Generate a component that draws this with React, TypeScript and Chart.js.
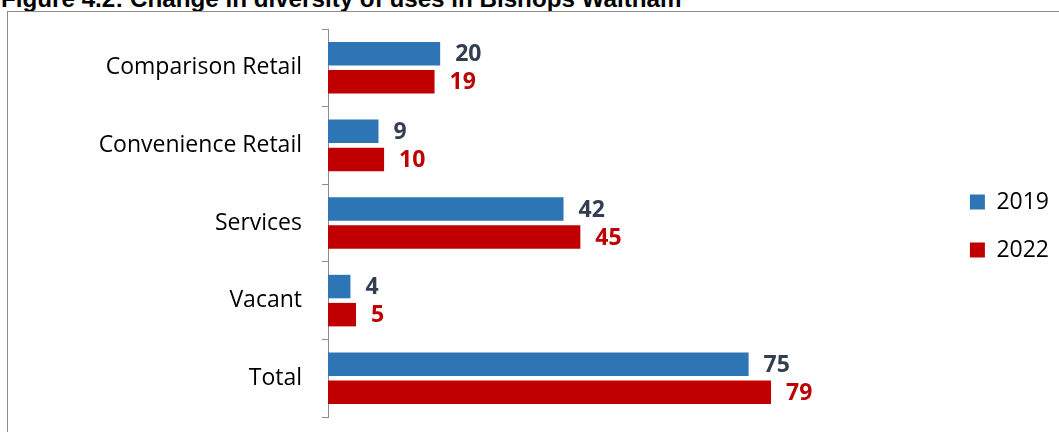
import React, { useEffect, useRef } from 'react';
import { Chart, registerables } from 'chart.js';

Chart.register(...registerables);

const titleText = 'Figure 4.2: Change in diversity of uses in Bishops Waltham';
const categories = ['Comparison Retail', 'Convenience Retail', 'Services', 'Vacant', 'Total'];
const seriesNames = ['2019', '2022'];
const values2019 = [20, 9, 42, 4, 75];
const values2022 = [19, 10, 45, 5, 79];

const W = 1059;
const H = 432;

const valueLabels = {
  id: 'valueLabels',
  afterDatasetsDraw(chart: any) {
    const ctx = chart.ctx;
    ctx.save();
    ctx.font = 'bold 23px "Open Sans"';
    ctx.textAlign = 'left';
    ctx.textBaseline = 'middle';
    chart.data.datasets.forEach((ds: any, i: number) => {
      const meta = chart.getDatasetMeta(i);
      ctx.fillStyle = ds.labelColor;
      meta.data.forEach((el: any, j: number) => {
        ctx.fillText(String(ds.data[j]), el.x + 15, el.y + 1);
      });
    });
    ctx.restore();
  },
};

export default function App() {
  const ref = useRef<HTMLCanvasElement | null>(null);

  useEffect(() => {
    if (!ref.current) return;
    const chart = new Chart(ref.current, {
      type: 'bar',
      data: {
        labels: categories,
        datasets: [
          {
            label: seriesNames[0],
            data: values2019,
            backgroundColor: '#2E75B6',
            labelColor: '#333F50',
            categoryPercentage: 0.724,
            barPercentage: 0.836,
          } as any,
          {
            label: seriesNames[1],
            data: values2022,
            backgroundColor: '#C00000',
            labelColor: '#C00000',
            categoryPercentage: 0.724,
            barPercentage: 0.836,
          } as any,
        ],
      },
      options: {
        indexAxis: 'y',
        responsive: false,
        animation: false,
        devicePixelRatio: 1,
        layout: { padding: { top: 29, bottom: 15, left: 0, right: 0 } },
        scales: {
          x: {
            display: false,
            min: 0,
            max: 110,
          },
          y: {
            afterFit: (scale: any) => {
              scale.width = 328;
              scale.paddingTop = 0;
              scale.paddingBottom = 0;
            },
            grid: {
              offset: true,
              drawOnChartArea: false,
              drawTicks: true,
              tickLength: 6,
              color: '#8c8c8c',
            },
            border: { display: true, color: '#8c8c8c', width: 1 },
            ticks: {
              padding: 20,
              color: '#000',
              font: { family: '"Open Sans"', size: 23 },
            },
          },
        },
        plugins: {
          legend: {
            position: 'right',
            align: 'center',
            title: { display: true, text: '', font: { size: 5 } },
            labels: {
              boxWidth: 15,
              boxHeight: 15,
              padding: 25,
              color: '#000',
              font: { family: '"Open Sans"', size: 23 },
            },
          },
          tooltip: { enabled: false },
        },
      },
      plugins: [valueLabels],
    } as any);
    return () => chart.destroy();
  }, []);

  return (
    <div
      style={{
        position: 'fixed',
        left: 0,
        top: 0,
        width: W,
        height: H,
        overflow: 'hidden',
        background: '#fff',
      }}
    >
      <div
        style={{
          position: 'absolute',
          left: 1,
          top: -13,
          fontFamily: '"Liberation Sans", Arial, sans-serif',
          fontWeight: 'bold',
          fontSize: '24.2px',
          lineHeight: '24px',
          whiteSpace: 'nowrap',
          color: '#000',
        }}
      >
        {titleText}
      </div>
      <div
        style={{
          position: 'absolute',
          left: 7,
          top: 11,
          width: 1200,
          height: 600,
          borderTop: '1px solid #8c8c8c',
          borderLeft: '1px solid #8c8c8c',
        }}
      />
      <canvas
        ref={ref}
        width={W}
        height={H}
        style={{ position: 'absolute', left: 0, top: 0, width: W, height: H }}
      />
    </div>
  );
}
